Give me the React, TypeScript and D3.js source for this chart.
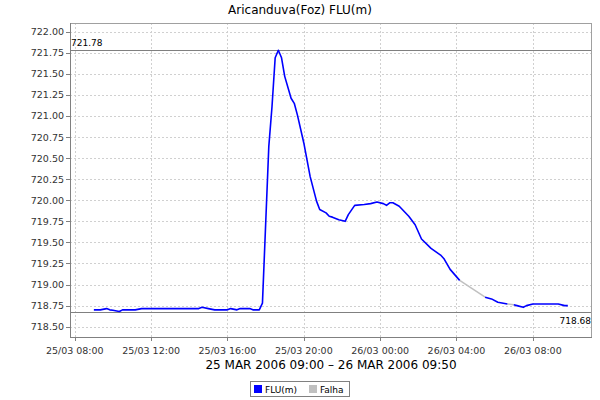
import React from "react";
import * as d3 from "d3";

// minutes after 25/03/2006 09:00 and level FLU(m)
const fluMinutes: number[][] = [
  [0, 20, 40, 50, 60, 80, 90, 130, 150, 330, 340, 360, 380, 420, 430, 450, 460, 490, 500, 510, 520, 530,
   550, 560, 570, 580, 590, 600, 620, 630, 640, 660, 680, 700, 710, 730, 740, 750, 770, 790, 800, 820,
   850, 870, 890, 910, 920, 930, 940, 960, 990, 1010, 1030, 1060, 1090, 1100, 1120, 1150],
  [1230, 1250, 1270, 1300],
  [1320, 1330, 1350, 1360, 1380, 1460, 1480, 1490],
];
const fluValues: number[][] = [
  [718.7, 718.7, 718.715, 718.7, 718.695, 718.68, 718.7, 718.7, 718.715, 718.715, 718.73, 718.715, 718.7,
   718.7, 718.715, 718.7, 718.715, 718.715, 718.7, 718.7, 718.7, 718.78,
   720.64, 721.11, 721.69, 721.78, 721.69, 721.47, 721.21, 721.15, 721.01, 720.68, 720.28, 719.99, 719.89,
   719.85, 719.81, 719.8, 719.77, 719.75, 719.83, 719.94,
   719.95, 719.96, 719.98, 719.96, 719.94, 719.97, 719.97, 719.93, 719.81, 719.71, 719.54, 719.43, 719.35,
   719.31, 719.18, 719.05],
  [718.85, 718.83, 718.79, 718.77],
  [718.76, 718.75, 718.73, 718.75, 718.77, 718.77, 718.75, 718.75],
];
const falhaMinutes: number[][] = [[1150, 1230], [1300, 1320]];
const falhaValues: number[][] = [[719.05, 718.85], [718.77, 718.76]];

const yTicks = [718.5, 718.75, 719.0, 719.25, 719.5, 719.75, 720.0, 720.25, 720.5, 720.75, 721.0, 721.25, 721.5, 721.75, 722.0];
const xTickHours = [0, 4, 8, 12, 16, 20, 24]; // after 25/03 08:00
const markers = [721.78, 718.68];
const title = "Aricanduva(Foz) FLU(m)";
const xLabel = "25 MAR 2006 09:00 \u2013 26 MAR 2006 09:50";
const legendItems = [
  { name: "FLU(m)", color: "#0000ff" },
  { name: "Falha", color: "#c0c0c0" },
];

const W = 600, H = 400;
const L = 70, R = 592, T = 23, B = 337;
const base = Date.UTC(2006, 2, 25, 9, 0);
const t = (m: number) => new Date(base + m * 60000);

export default function App() {
  const x = d3.scaleUtc()
    .domain([new Date(Date.UTC(2006, 2, 25, 7, 45)), new Date(Date.UTC(2006, 2, 26, 11, 6))])
    .range([L, R]);
  const y = d3.scaleLinear().domain([718.378, 722.103]).range([B, T]);
  const line = d3.line<[number, number]>().x(d => x(t(d[0]))).y(d => y(d[1]));
  const fmt = d3.utcFormat("%d/%m %H:%M");
  const xTicks = xTickHours.map(h => new Date(Date.UTC(2006, 2, 25, 8) + h * 3600000));
  const font = "'DejaVu Sans', sans-serif";

  return (
    <svg width={W} height={H} style={{ position: "absolute", left: 0, top: 0, background: "#fff" }} fontFamily={font}>
      <rect x={0} y={0} width={W} height={H} fill="#fff" />
      <text x={300} y={14} textAnchor="middle" fontSize={12} fill="#000">{title}</text>
      <rect x={L} y={T} width={R - L} height={B - T} fill="#fff" />
      {yTicks.map(v => (
        <line key={"gy" + v} x1={L} x2={R} y1={Math.round(y(v)) + 0.5} y2={Math.round(y(v)) + 0.5}
          stroke="#d0d0d0" strokeDasharray="2,2" />
      ))}
      {xTicks.map((d, i) => (
        <line key={"gx" + i} x1={Math.round(x(d)) + 0.5} x2={Math.round(x(d)) + 0.5} y1={T} y2={B}
          stroke="#d0d0d0" strokeDasharray="2,2" />
      ))}
      {markers.map(v => (
        <line key={"m" + v} x1={L} x2={R} y1={Math.round(y(v)) + 0.5} y2={Math.round(y(v)) + 0.5} stroke="#808080" />
      ))}
      <text x={L + 1} y={y(markers[0]) - 4} fontSize={9} fill="#000">{markers[0].toFixed(2)}</text>
      <text x={R - 1} y={y(markers[1]) + 12} fontSize={9} fill="#000" textAnchor="end">{markers[1].toFixed(2)}</text>
      {falhaMinutes.map((ms, i) => (
        <path key={"f" + i} d={line(ms.map((m, j) => [m, falhaValues[i][j]] as [number, number])) || ""}
          fill="none" stroke="#c0c0c0" strokeWidth={1.5} />
      ))}
      {fluMinutes.map((ms, i) => (
        <path key={"s" + i} d={line(ms.map((m, j) => [m, fluValues[i][j]] as [number, number])) || ""}
          fill="none" stroke="#0000ff" strokeWidth={1.6} strokeLinejoin="round" />
      ))}
      <rect x={L + 0.5} y={T + 0.5} width={R - L - 1} height={B - T} fill="none" stroke="#a0a0a0" />
      <line x1={L + 0.5} x2={L + 0.5} y1={T} y2={B} stroke="#808080" />
      <line x1={L} x2={R} y1={B + 0.5} y2={B + 0.5} stroke="#808080" />
      {yTicks.map(v => (
        <g key={"ty" + v}>
          <line x1={L - 4} x2={L} y1={Math.round(y(v)) + 0.5} y2={Math.round(y(v)) + 0.5} stroke="#808080" />
          <text x={L - 6} y={y(v) + 3.5} fontSize={9.5} textAnchor="end" fill="#333">{v.toFixed(2)}</text>
        </g>
      ))}
      {xTicks.map((d, i) => (
        <g key={"tx" + i}>
          <line x1={Math.round(x(d)) + 0.5} x2={Math.round(x(d)) + 0.5} y1={B} y2={B + 4} stroke="#808080" />
          <text x={x(d)} y={354} fontSize={9.5} textAnchor="middle" fill="#333">{fmt(d)}</text>
        </g>
      ))}
      <text x={(L + R) / 2} y={369} fontSize={12} textAnchor="middle" fill="#000">{xLabel}</text>
      <rect x={250.5} y={381.5} width={99} height={15} fill="#fff" stroke="#808080" />
      {legendItems.map((it, i) => {
        const lx = i === 0 ? 254 : 309;
        return (
          <g key={it.name}>
            <rect x={lx} y={385} width={8} height={8} fill={it.color} />
            <text x={lx + 11} y={393} fontSize={9} fill="#000">{it.name}</text>
          </g>
        );
      })}
    </svg>
  );
}
